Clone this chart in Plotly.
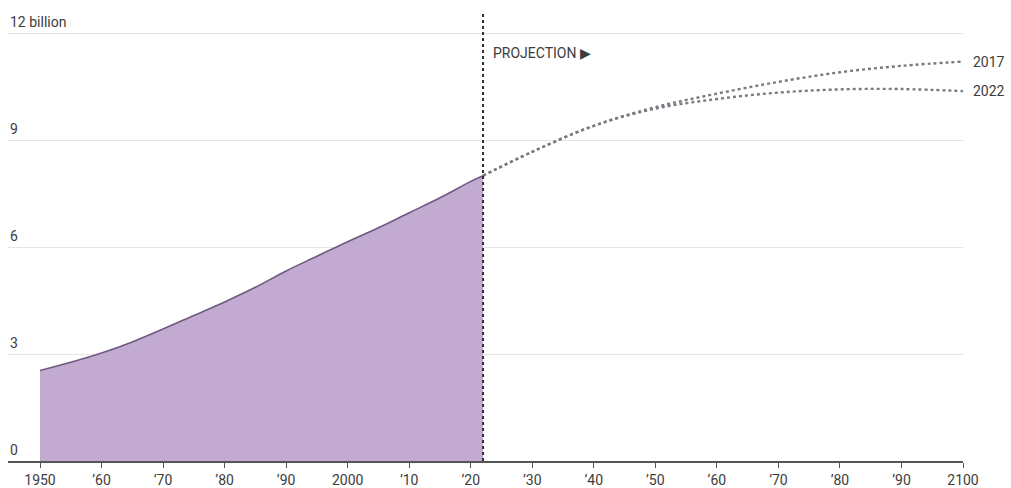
import plotly.graph_objects as go

# World population, billions
hist_years = [1950, 1955, 1960, 1965, 1970, 1975, 1980, 1985, 1990, 1995,
              2000, 2005, 2010, 2015, 2020, 2022]
hist_pop = [2.54, 2.77, 3.03, 3.34, 3.70, 4.08, 4.46, 4.87, 5.33, 5.74,
            6.15, 6.54, 6.96, 7.38, 7.84, 8.0]

proj_years = [2022, 2030, 2040, 2050, 2060, 2070, 2080, 2090, 2100]
proj_2017 = [8.0, 8.67, 9.4, 9.92, 10.3, 10.63, 10.9, 11.08, 11.2]
proj_2022 = [8.0, 8.67, 9.4, 9.88, 10.15, 10.33, 10.42, 10.43, 10.37]

x_tick_vals = [1950, 1960, 1970, 1980, 1990, 2000, 2010, 2020, 2030, 2040,
               2050, 2060, 2070, 2080, 2090, 2100]
x_tick_text = ["1950", "\u201960", "\u201970", "\u201980", "\u201990", "2000",
               "\u201910", "\u201920", "\u201930", "\u201940", "\u201950",
               "\u201960", "\u201970", "\u201980", "\u201990", "2100"]
y_tick_vals = [0, 3, 6, 9, 12]
y_tick_text = ["0", "3", "6", "9", "12 billion"]

FONT = "Liberation Sans Narrow, Roboto, Arial, sans-serif"
TEXT = "#3c3c3c"

fig = go.Figure()

fig.add_trace(go.Scatter(
    x=hist_years, y=hist_pop, mode="lines", fill="tozeroy",
    line_shape="spline",
    fillcolor="#c3aad1", line=dict(color="#6e5a80", width=1.6),
    hoverinfo="skip", showlegend=False))

fig.add_trace(go.Scatter(
    x=proj_years, y=proj_2017, mode="lines", line_shape="spline",
    line=dict(color="#7a7a82", width=2.4, dash="dot"),
    showlegend=False))
fig.add_trace(go.Scatter(
    x=proj_years, y=proj_2022, mode="lines", line_shape="spline",
    line=dict(color="#7a7a82", width=2.4, dash="dot"),
    showlegend=False))

# Divider between estimates and projections
fig.add_shape(type="line", xref="x", yref="paper", x0=2022, x1=2022,
              y0=0, y1=1, line=dict(color="#2e2e2e", width=2, dash="dot"))

fig.add_annotation(x=2022, xref="x", y=11.45, yref="y", xshift=8,
                   text="PROJECTION \u25B6", showarrow=False,
                   xanchor="left", yanchor="middle",
                   font=dict(family=FONT, size=14, color=TEXT))

fig.add_annotation(x=proj_years[-1], y=proj_2017[-1], xref="x", yref="y",
                   xshift=8, text="2017", showarrow=False, xanchor="left",
                   font=dict(family=FONT, size=14, color=TEXT))
fig.add_annotation(x=proj_years[-1], y=proj_2022[-1], xref="x", yref="y",
                   xshift=8, text="2022", showarrow=False, xanchor="left",
                   font=dict(family=FONT, size=14, color=TEXT))

# Value labels sit just above their gridlines at the left edge
for v, t in zip(y_tick_vals, y_tick_text):
    fig.add_annotation(x=0, xref="paper", y=v, yref="y", yshift=1,
                       text=t, showarrow=False, xanchor="left",
                       yanchor="bottom",
                       font=dict(family=FONT, size=14, color=TEXT))

fig.update_layout(
    width=1011, height=488,
    margin=dict(l=8, r=48, t=12, b=27),
    paper_bgcolor="white", plot_bgcolor="white",
    font=dict(family=FONT, color=TEXT),
    xaxis=dict(range=[1944.8, 2100], tickvals=x_tick_vals,
               ticktext=x_tick_text, showgrid=False, zeroline=False,
               showline=True, linecolor="#555555", linewidth=1.5,
               ticks="outside", ticklen=5, tickwidth=1.2,
               tickcolor="#555555", automargin=False,
               tickfont=dict(size=14, color=TEXT)),
    yaxis=dict(range=[0, 12.59], tickvals=y_tick_vals,
               showticklabels=False, showgrid=True,
               gridcolor="#e4e4e4", gridwidth=1, zeroline=False,
               showline=False, ticks="", automargin=False),
)

fig.write_html("out.html")
